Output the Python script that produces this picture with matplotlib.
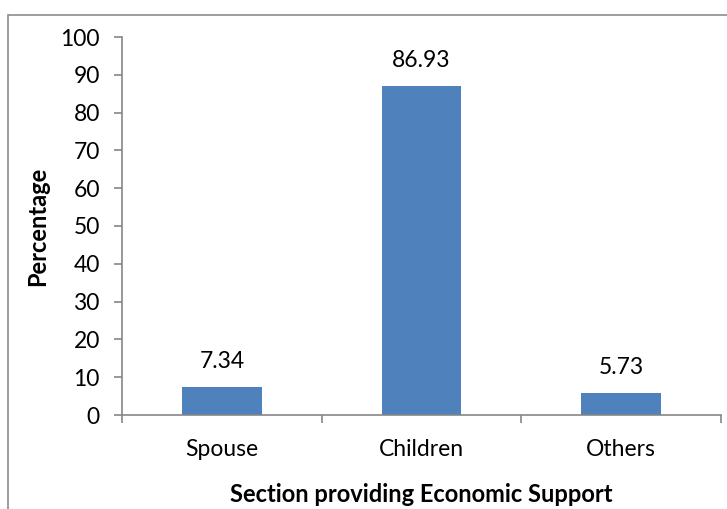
import matplotlib
matplotlib.use("Agg")
import matplotlib.pyplot as plt
from matplotlib.patches import Rectangle

categories = ["Spouse", "Children", "Others"]
values = [7.34, 86.93, 5.73]
yticks = [0, 10, 20, 30, 40, 50, 60, 70, 80, 90, 100]

plt.rcParams['font.family'] = ['Lato', 'DejaVu Sans']

W, H = 727, 509
fig = plt.figure(figsize=(W/100, H/100), dpi=100)
ax = fig.add_axes([122/W, 1-415/H, (721-122)/W, (415-37)/H])

gray = '#868686'
fs = 16.5
x = list(range(len(categories)))
ax.bar(x, values, width=0.4, color='#4F81BD')
for xi, v in zip(x, values):
    ax.annotate(f"{v:.2f}", (xi, v), xytext=(0, 11), textcoords='offset points',
                ha='center', va='bottom', fontsize=fs)

ax.set_xlim(-0.5, 2.5)
ax.set_ylim(0, 100)
ax.set_yticks(yticks)
ax.set_yticklabels([str(t) for t in yticks], fontsize=fs)
ax.set_xticks([-0.5, 0.5, 1.5, 2.5])
ax.set_xticklabels([])
ax.set_xticks(x, minor=True)
ax.set_xticklabels(categories, minor=True, fontsize=fs)
ax.tick_params(axis='x', which='minor', length=0, pad=17)
ax.tick_params(axis='x', which='major', length=6, color=gray, width=1.2, direction='out')
ax.tick_params(axis='y', length=6, color=gray, width=1.2, direction='out', pad=10)
for s in ['top', 'right']:
    ax.spines[s].set_visible(False)
for s in ['left', 'bottom']:
    ax.spines[s].set_color(gray)
    ax.spines[s].set_linewidth(1.2)

ax.set_ylabel("Percentage", fontsize=17, fontweight='bold', labelpad=8)
ax.set_xlabel("Section providing Economic Support", fontsize=17, fontweight='bold', labelpad=17)

fig.patches.append(Rectangle((8/W, -0.1), 1.1, 1-15/H+0.1, transform=fig.transFigure,
                             fill=False, edgecolor='#8c8c8c', linewidth=1.2))

fig.savefig("out.png", dpi=100)
